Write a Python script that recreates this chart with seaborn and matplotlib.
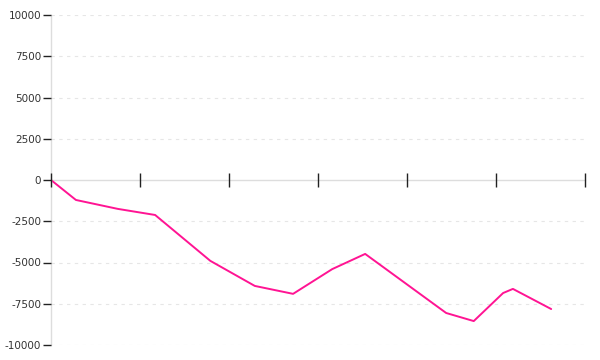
import matplotlib
matplotlib.use("Agg")
import matplotlib.pyplot as plt
import seaborn as sns
import pandas as pd

x_values = [0, 2.8, 7.5, 11.7, 17.9, 22.9, 27.2, 31.6, 35.3, 44.4, 47.5, 50.8, 51.9, 56.2]
y_values = [0, -1210, -1750, -2120, -4900, -6420, -6900, -5400, -4480, -8060, -8550, -6850, -6600, -7820]
y_ticks = [-10000, -7500, -5000, -2500, 0, 2500, 5000, 7500, 10000]
x_ticks = [0, 10, 20, 30, 40, 50, 60]

sns.set_style("white")
plt.rcParams['font.family'] = ['DejaVu Sans']

df = pd.DataFrame({"x": x_values, "y": y_values})

fig = plt.figure(figsize=(6, 3.6), dpi=100)
ax = fig.add_axes([51/600, 1-345/360, (585-51)/600, 330/360])
ax.set_axisbelow(False)

# dashed grid
for t in y_ticks:
    if t != 0:
        ax.axhline(t, color="#e6e6e6", lw=0.8, ls=(0, (3, 4)), zorder=0)

sns.lineplot(data=df, x="x", y="y", ax=ax, color="#ff1493", lw=1.4, zorder=2)

ax.set_xlim(0, 60)
ax.set_ylim(-10000, 10000)
ax.set_yticks(y_ticks)
ax.set_yticklabels([str(t) for t in y_ticks])
ax.set_xticks(x_ticks)
ax.set_xticklabels([])
ax.set_xlabel("")
ax.set_ylabel("")

for s in ["top", "right"]:
    ax.spines[s].set_visible(False)
ax.spines["left"].set_color("#dddddd")
ax.spines["left"].set_linewidth(1.0)
ax.spines["bottom"].set_position(("data", 0))
ax.spines["bottom"].set_color("#dddddd")
ax.spines["bottom"].set_linewidth(1.0)
ax.spines["bottom"].set_zorder(1)

ax.tick_params(axis="y", direction="out", length=6, width=1, color="#222222",
               labelsize=7.5, labelcolor="#333333", pad=1, left=True)
ax.tick_params(axis="x", direction="inout", length=10, width=1, color="#222222", bottom=True)

fig.savefig("out.png", dpi=100)
